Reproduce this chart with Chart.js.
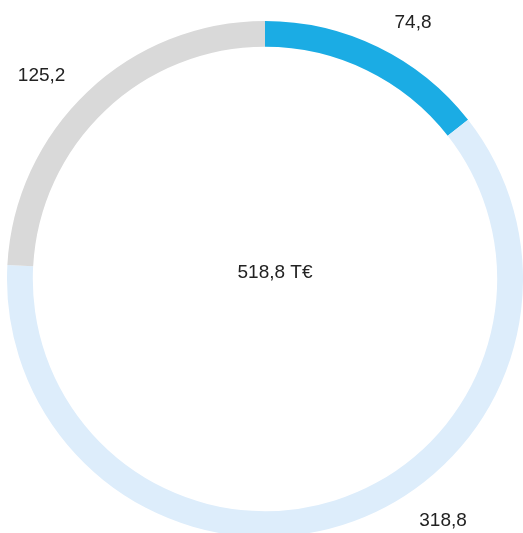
<!DOCTYPE html>
<html>
<head>
<meta charset="utf-8">
<script src="https://cdn.jsdelivr.net/npm/chart.js@4"></script>
<style>
    html, body { margin: 0; padding: 0; background: #fff; }
    #wrap { width: 523px; height: 533px; overflow: hidden; position: relative; }
    canvas { display: block; }
</style>
</head>
<body>
<div id="wrap">
    <canvas id="volumeDonut" width="523" height="540"></canvas>
</div>
<script>
const categories = ['Segment A', 'Segment B', 'Segment C']
const values = [74.8, 318.8, 125.2]
const unit = 'T€'
const colors = ['#1BACE4', '#DDEDFB', '#D9D9D9']

// where the value labels sit around the ring (degrees clockwise from 12 o'clock)
const labelAngles = [30, 143.6, 312.3]
const labelRadii = [296, 300, 302]

function formatNumber(n) {
    return n.toFixed(1).replace('.', ',');
}

const ringLabels = {
    id: 'ringLabels',
    afterDatasetsDraw(chart) {
        const ctx = chart.ctx;
        const arcs = chart.getDatasetMeta(0).data;
        if (!arcs.length) return;
        const cx = arcs[0].x;
        const cy = arcs[0].y;

        ctx.save();
        ctx.fillStyle = '#222';
        ctx.font = '19px "Liberation Sans", Arial, sans-serif';
        ctx.textAlign = 'center';
        ctx.textBaseline = 'middle';

        values.forEach((v, i) => {
            const a = labelAngles[i] * Math.PI / 180;
            const x = cx + Math.sin(a) * labelRadii[i];
            const y = cy - Math.cos(a) * labelRadii[i];
            ctx.fillText(formatNumber(v), x, y);
        });

        const total = values.reduce((s, v) => s + v, 0);
        ctx.fillText(`${formatNumber(total)} ${unit}`, cx + 10, cy - 6);
        ctx.restore();
    }
};

const ctx = document.getElementById('volumeDonut').getContext('2d');

const donut = new Chart(ctx, {
    type: 'doughnut',
    data: {
        labels: categories,
        datasets: [{
            data: values,
            backgroundColor: colors,
            borderWidth: 0,
            hoverOffset: 0
        }]
    },
    options: {
        responsive: false,
        animation: false,
        cutout: '90%',
        layout: {
            padding: { left: 7, right: 0, top: 21, bottom: 3 }
        },
        plugins: {
            legend: { display: false },
            tooltip: { enabled: false }
        }
    },
    plugins: [ringLabels]
});
</script>
</body>
</html>
